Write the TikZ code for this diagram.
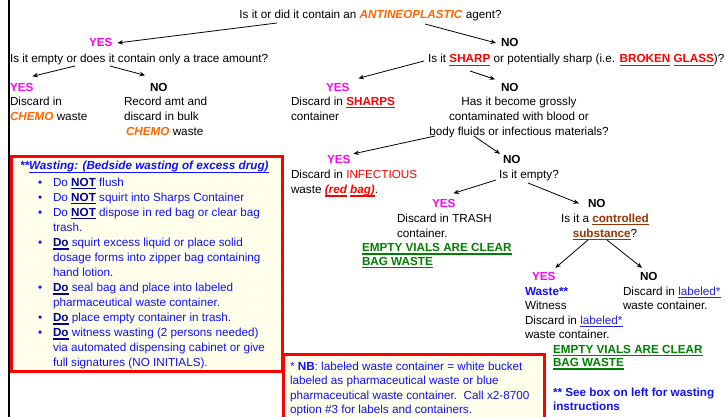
\documentclass[tikz,border=0pt]{standalone}
\usepackage{fontspec}
\setmainfont{Liberation Sans}
\usetikzlibrary{arrows.meta,patterns.meta}
\newsavebox\ulbox
\newcommand\uline[1]{\sbox\ulbox{#1}\rlap{\rule[-3pt]{\wd\ulbox}{1.3pt}}\usebox\ulbox}
\newcommand\ulthin[1]{\sbox\ulbox{#1}\rlap{\rule[-2.2pt]{\wd\ulbox}{0.7pt}}\usebox\ulbox}
\definecolor{mag}{HTML}{FF00FF}
\definecolor{orng}{HTML}{FF6600}
\definecolor{rd}{HTML}{FF0000}
\definecolor{grn}{HTML}{008000}
\definecolor{brn}{HTML}{993300}
\definecolor{bl}{HTML}{1010FF}
\definecolor{dbl}{HTML}{000099}
\definecolor{lnkc}{HTML}{2020DD}
\definecolor{boxbg}{HTML}{FFFFF2}
\definecolor{dotc}{HTML}{FFFF80}
\newcommand\fs{\fontsize{11.7}{15}\selectfont}
\newcommand\fsa{\fontsize{11.7}{14.5}\selectfont}
\newcommand\fsb{\fontsize{11.7}{13.5}\selectfont}
\newcommand\yesl{\textcolor{mag}{\textbf{YES}}}
\newcommand\nol{\textbf{NO}}
\newcommand\chemo{\textcolor{orng}{\textbf{\textit{CHEMO}}}}
\newcommand\shp[1]{\textcolor{rd}{\uline{\textbf{#1}}}}
\newcommand\grnu[1]{\textcolor{grn}{\uline{\textbf{#1}}}}
\newcommand\ctl[1]{\textcolor{brn}{\uline{\textbf{#1}}}}
\newcommand\nt[1]{\textcolor{dbl}{\uline{\textbf{#1}}}}
\newcommand\lnk[1]{\textcolor{lnkc}{\ulthin{#1}}}
\tikzdeclarepattern{name=ydots,type=uncolored,bottom left={(-1pt,-1pt)},top right={(1pt,1pt)},tile size={(4pt,4pt)},code={\fill (0pt,0pt) circle (0.6pt);}}
\begin{document}
\begin{tikzpicture}[x=1pt,y=-1pt,
  txtl/.style={inner sep=0pt,outer sep=0pt,font=\fs,align=left,anchor=north west},
  txtc/.style={inner sep=0pt,outer sep=0pt,font=\fs,align=center,anchor=north},
  one/.style={inner sep=0pt,outer sep=0pt,font=\fs,anchor=base west},
  lbl/.style={inner sep=0pt,outer sep=0pt,font=\fs,anchor=base west},
  arr/.style={-{Stealth[length=5.5pt,width=4.5pt]},line width=0.8pt},
  redbox/.style={draw=rd,line width=3pt},
  bluetxt/.style={text=bl}]
\useasboundingbox (0,0) rectangle (726,417);
\fill[white] (0,0) rectangle (726,417);

% boxes
\path[fill=boxbg] (11.5,156.5) rectangle (282,371);
\path[pattern=ydots,pattern color=dotc] (11.5,156.5) rectangle (282,371);
\draw[redbox] (11.5,156.5) rectangle (282,371);
\path[fill=boxbg] (283.5,354.5) rectangle (544,430);
\path[pattern=ydots,pattern color=dotc] (283.5,354.5) rectangle (544,430);
\draw[redbox] (283.5,354.5) rectangle (544,430);

% left rule
\draw[line width=2pt] (9,0) -- (9,417);

% questions
\node[one,anchor=base] (q1) at (370.5,19) {Is it or did it contain an \textcolor{orng}{\textbf{\textit{ANTINEOPLASTIC}}} agent?};
\node[lbl] (yes1) at (89,47) {\yesl};
\node[lbl] (no1) at (501,47) {\nol};
\node[one] (q2) at (10,63) {Is it empty or does it contain only a trace amount?};
\node[one] (q3) at (428,63) {Is it \shp{SHARP} or potentially sharp (i.e. \shp{BROKEN} \shp{GLASS})?};

\node[lbl] (yes2) at (10,91.5) {\yesl};
\node[lbl] (no2) at (150,91.5) {\nol};
\node[lbl] (yes3) at (326,91.5) {\yesl};
\node[lbl] (no3) at (501,91.5) {\nol};

\node[txtl] (disc1) at (10,95) {\strut Discard in\\\chemo{} waste};
\node[txtl] (rec) at (124,95) {\strut Record amt and\\discard in bulk\\\hspace*{2pt}\chemo{} waste};
\node[txtl] (shps) at (291,95) {\strut Discard in \shp{SHARPS}\\container};
\node[txtc] (body) at (519,95) {\strut Has it become grossly\\contaminated with blood or\\body fluids or infectious materials?};

\node[lbl] (yes4) at (327,164) {\yesl};
\node[lbl] (no4) at (503,164) {\nol};
\node[txtl] (inf) at (291,168) {\strut Discard in \textcolor{rd}{INFECTIOUS}\\waste \textcolor{rd}{\textbf{\textit{\uline{(red} \uline{bag)}}}}.};
\node[one] (empt) at (499,178.5) {Is it empty?};

\node[lbl] (yes5) at (432,207.5) {\yesl};
\node[lbl] (no5) at (588,207.5) {\nol};
\node[txtl] (trash) at (397,211.5) {\strut Discard in TRASH\\container.};
\node[txtl,font=\fsb] (ev1) at (362,242.05) {\strut\grnu{EMPTY VIALS ARE CLEAR}\\\grnu{BAG WASTE}};
\node[txtc] (ctrl) at (605,211.5) {\strut Is it a \ctl{controlled}\\\ctl{substance}?};

\node[lbl] (yes6) at (532,280) {\yesl};
\node[lbl] (no6) at (640,280) {\nol};
\node[txtl,font=\fsa] (wst) at (525,284.85) {\strut\textcolor{bl}{\textbf{Waste**}}\\Witness\\Discard in \lnk{labeled*}\\waste container.};
\node[txtl,font=\fsa] (disc6) at (623,284.85) {\strut Discard in \lnk{labeled*}\\waste container.};
\node[txtl,font=\fsb] (ev2) at (553,343.55) {\strut\grnu{EMPTY VIALS ARE CLEAR}\\\grnu{BAG WASTE}};
\node[txtl,font=\fsa,bluetxt] (see) at (553,385.85) {\strut\textbf{** See box on left for wasting}\\\textbf{instructions}};

% wasting box content
\node[one,bluetxt] (wt) at (20,170) {\textbf{\textit{**\uline{Wasting: (Bedside wasting of excess drug)}}}};
\node[one,bluetxt] (bu1) at (38,186.5) {\textbullet};
\node[one,bluetxt] (bu2) at (38,201.5) {\textbullet};
\node[one,bluetxt] (bu3) at (38,216.5) {\textbullet};
\node[one,bluetxt] (bu4) at (38,246.5) {\textbullet};
\node[one,bluetxt] (bu5) at (38,291.5) {\textbullet};
\node[one,bluetxt] (bu6) at (38,321.5) {\textbullet};
\node[one,bluetxt] (bu7) at (38,336.5) {\textbullet};
\node[txtl,bluetxt] (it1) at (53,176) {\strut Do \nt{NOT} flush};
\node[txtl,bluetxt] (it2) at (53,191) {\strut Do \nt{NOT} squirt into Sharps Container};
\node[txtl,bluetxt] (it3) at (53,206) {\strut Do \nt{NOT} dispose in red bag or clear bag\\trash.};
\node[txtl,bluetxt] (it4) at (53,236) {\strut\nt{Do} squirt excess liquid or place solid\\dosage forms into zipper bag containing\\hand lotion.};
\node[txtl,bluetxt] (it5) at (53,281) {\strut\nt{Do} seal bag and place into labeled\\pharmaceutical waste container.};
\node[txtl,bluetxt] (it6) at (53,311) {\strut\nt{Do} place empty container in trash.};
\node[txtl,bluetxt] (it7) at (53,326) {\strut\nt{Do} witness wasting (2 persons needed)\\via automated dispensing cabinet or give\\full signatures (NO INITIALS).};

% NB box content
\node[txtl,font=\fsa,bluetxt] (nb) at (290,359.85) {\strut * \textbf{NB}: labeled waste container = white bucket\\labeled as pharmaceutical waste or blue\\pharmaceutical waste container.\ \ Call x2-8700\\option \#3 for labels and containers.};

% arrow start points
\coordinate (s1l) at (277,23);
\coordinate (s1r) at (425,24);
\coordinate (s2l) at (75,66);
\coordinate (s2r) at (110,66);
\coordinate (s3l) at (424,61);
\coordinate (s3r) at (470,71);
\coordinate (s4l) at (435,136);
\coordinate (s4r) at (474,136);
\coordinate (s5l) at (496,180);
\coordinate (s5r) at (528,183);
\coordinate (s6l) at (588,240);
\coordinate (s6r) at (607,240);

\draw[arr] (s1l) -- ([xshift=5pt]yes1.east);
\draw[arr] (s1r) -- ([xshift=-5pt]no1.west);
\draw[arr] (s2l) -- ([xshift=-1pt,yshift=7pt]yes2.north east);
\draw[arr] (s2r) -- ([xshift=-5pt,yshift=8pt]no2.north west);
\draw[arr] (s3l) -- ([xshift=9pt,yshift=5pt]yes3.north east);
\draw[arr] (s3r) -- ([xshift=-6pt,yshift=4pt]no3.north west);
\draw[arr] (s4l) -- ([xshift=3pt,yshift=2pt]yes4.north east);
\draw[arr] (s4r) -- ([xshift=-3pt,yshift=2pt]no4.north west);
\draw[arr] (s5l) -- ([xshift=-2pt,yshift=6pt]yes5.north east);
\draw[arr] (s5r) -- ([xshift=-9pt]no5.west);
\draw[arr] (s6l) -- ([yshift=4pt]yes6.north east);
\draw[arr] (s6r) -- ([xshift=2pt,yshift=4pt]no6.north west);
\end{tikzpicture}
\end{document}
